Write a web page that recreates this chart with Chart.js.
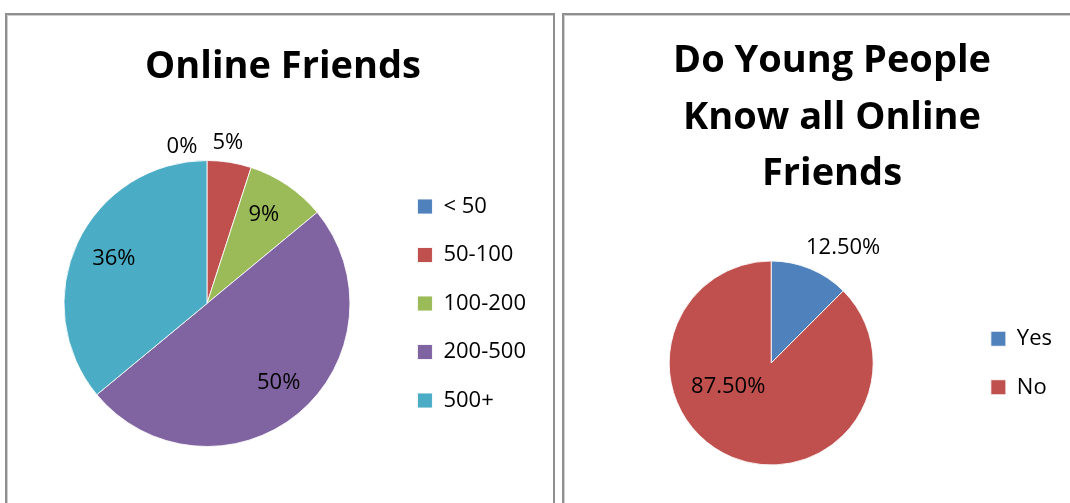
<!DOCTYPE html>
<html>
<head>
<meta charset="utf-8">
<script src="https://cdn.jsdelivr.net/npm/chart.js@4/dist/chart.umd.min.js"></script>
<style>
  html, body { margin: 0; padding: 0; background: #fff; overflow: hidden; }
  body { width: 1070px; height: 503px; position: relative; font-family: 'Open Sans', sans-serif; }
  .panel {
    position: absolute; top: 13px; height: 520px;
    border: 2px solid #8f8f8f;
    box-shadow: inset 1px 1px 0 #cfcfcf;
    background: #fff;
  }
  #leftPanel { left: 5px; width: 546px; }
  #rightPanel { left: 562px; width: 536px; }
  .panel canvas { position: absolute; left: 0; top: 0; }
  .title {
    position: absolute; margin: 0; text-align: center;
    font-size: 38px; font-weight: bold; line-height: 56.5px; color: #000;
    white-space: nowrap;
  }
  #leftPanel .title { left: 76px; width: 400px; top: 20px; }
  #rightPanel .title { left: 68px; width: 400px; top: 14px; }
</style>
</head>
<body>
<div class="panel" id="leftPanel">
  <canvas id="friendsChart" width="546" height="505"></canvas>
  <h1 class="title">Online Friends</h1>
</div>
<div class="panel" id="rightPanel">
  <canvas id="knowChart" width="536" height="505"></canvas>
  <h1 class="title">Do Young People<br>Know all Online<br>Friends</h1>
</div>
<script>
// Datos de los dos gráficos
const friendRanges = ['< 50', '50-100', '100-200', '200-500', '500+'];
const friendShares = [0, 5, 9, 50, 36];

const knowAnswers = ['Yes', 'No'];
const knowShares = [12.5, 87.5];

// Colores estilo Office
const friendColors = ['#4F81BD', '#C0504D', '#9BBB59', '#8064A2', '#4BACC6'];
const knowColors = ['#4F81BD', '#C0504D'];

Chart.defaults.font.family = "'Open Sans', sans-serif";
Chart.defaults.color = '#000';

// Etiquetas de porcentaje sobre cada porción (dist = fracción del radio, shift = grados)
const pctLabels = {
  id: 'pctLabels',
  afterDatasetsDraw(chart, args, opts) {
    const meta = chart.getDatasetMeta(0);
    const data = chart.data.datasets[0].data;
    const total = data.reduce((a, b) => a + b, 0);
    const ctx = chart.ctx;
    ctx.save();
    ctx.font = opts.size + 'px ' + Chart.defaults.font.family;
    ctx.fillStyle = '#000';
    ctx.textAlign = 'center';
    ctx.textBaseline = 'alphabetic';
    meta.data.forEach((arc, i) => {
      const p = arc.getProps(['x', 'y', 'startAngle', 'endAngle', 'outerRadius'], true);
      const mid = (p.startAngle + p.endAngle) / 2 + (opts.shift[i] || 0) * Math.PI / 180;
      const r = p.outerRadius * opts.dist[i];
      const text = (data[i] / total * 100).toFixed(opts.decimals) + '%';
      ctx.fillText(text, p.x + Math.cos(mid) * r, p.y + Math.sin(mid) * r + opts.size * 0.357);
    });
    ctx.restore();
  }
};

function createPieChart(canvasId, labels, values, colors, cfg) {
  const ctx = document.getElementById(canvasId).getContext('2d');
  return new Chart(ctx, {
    type: 'pie',
    data: {
      labels: labels,
      datasets: [{
        data: values,
        backgroundColor: colors,
        borderColor: 'rgba(255,255,255,0.85)',
        borderWidth: 1,
        hoverOffset: 0
      }]
    },
    plugins: [pctLabels],
    options: {
      responsive: false,
      animation: false,
      events: [],
      layout: { padding: cfg.padding },
      plugins: {
        title: { display: false },
        legend: {
          position: 'right',
          fullSize: false,
          labels: {
            boxWidth: 15,
            boxHeight: 15,
            padding: 26.5,
            font: { size: 22 }
          }
        },
        tooltip: { enabled: false },
        pctLabels: cfg.labels
      }
    }
  });
}

// Gráfico de amigos en línea
createPieChart('friendsChart', friendRanges, friendShares, friendColors, {
  padding: { left: 16, right: 17, top: 145, bottom: 73 },
  labels: {
    size: 22, decimals: 0,
    dist: [1.118, 1.145, 0.748, 0.737, 0.729],
    shift: [-9, -1.7, -2.1, -3.3, 1.5]
  }
});

// Gráfico: ¿conocen a todos sus amigos en línea?
createPieChart('knowChart', knowAnswers, knowShares, knowColors, {
  padding: { left: 14, right: 38, top: 245.5, bottom: 54.5 },
  labels: {
    size: 22, decimals: 2,
    dist: [1.343, 0.473],
    shift: [9.2, 40.4]
  }
});
</script>
</body>
</html>
